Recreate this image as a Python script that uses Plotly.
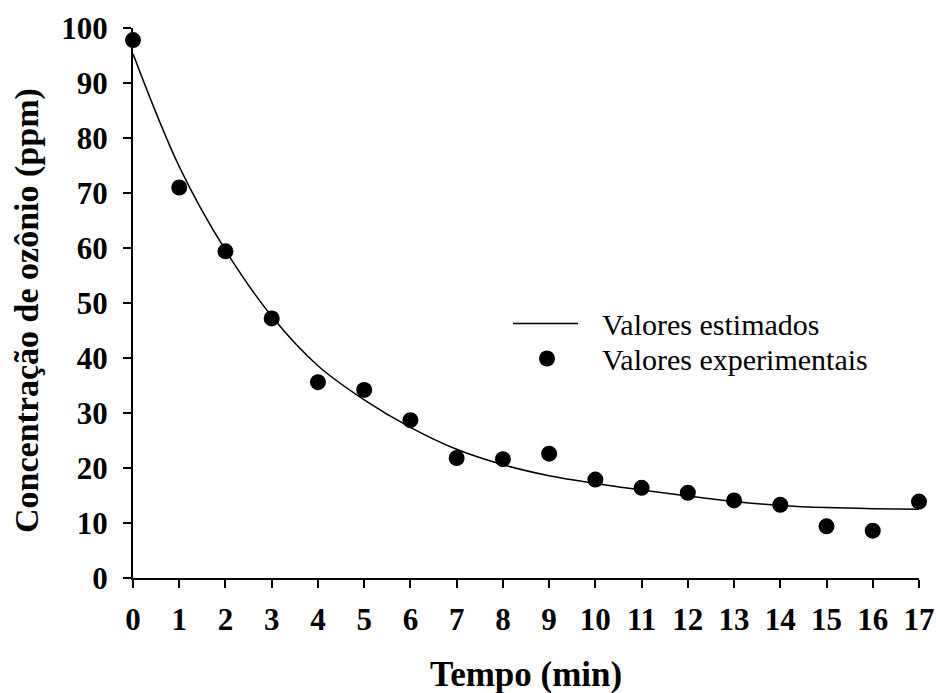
import plotly.graph_objects as go

# Data
tempo = list(range(18))
experimentais = [97.8, 71.0, 59.4, 47.2, 35.6, 34.2, 28.7, 21.8, 21.6, 22.6,
                 17.9, 16.4, 15.5, 14.1, 13.3, 9.4, 8.6, 13.9]
estimados = [95.3, 74.8, 59.6, 47.6, 38.6, 32.4, 27.4, 23.4, 20.6, 18.6,
             17.2, 16.0, 14.9, 13.9, 13.2, 12.8, 12.6, 12.5]
x_ticks = list(range(0, 18))
y_ticks = list(range(0, 101, 10))

FONT = "Liberation Serif, Times New Roman, serif"

fig = go.Figure()
fig.add_trace(go.Scatter(x=tempo, y=estimados, mode="lines", line_shape="spline",
                         line=dict(color="black", width=1.5), name="Valores estimados",
                         cliponaxis=False, showlegend=False))
fig.add_trace(go.Scatter(x=tempo, y=experimentais, mode="markers",
                         marker=dict(color="black", size=16), name="Valores experimentais",
                         cliponaxis=False, showlegend=False))

W, H = 936, 693
L, R, T, B = 133, 17, 28, 115
pw, ph = W - L - R, H - T - B

def px(xp):
    return (xp - L) / pw

def py(yp):
    return (H - B - yp) / ph

axis_common = dict(showline=True, linecolor="black", linewidth=2, ticks="outside",
                   ticklen=8, tickwidth=2, tickcolor="black", showgrid=False,
                   zeroline=False, automargin=False,
                   tickfont=dict(family=FONT, size=31, color="black", weight="bold"))

fig.update_xaxes(range=[0, 17], tickvals=x_ticks, ticktext=[str(v) for v in x_ticks],
                 ticklabelstandoff=5, **axis_common)
fig.update_yaxes(range=[0, 100], tickvals=y_ticks, ticktext=[str(v) for v in y_ticks],
                 ticklabelstandoff=9, **axis_common)

annotations = [
    dict(text="Tempo (min)", x=0.5, y=py(674), xref="paper", yref="paper",
         xanchor="center", yanchor="middle", showarrow=False,
         font=dict(family=FONT, size=35, color="black", weight="bold")),
    dict(text="Concentração de ozônio (ppm)", x=px(27), y=py(311), xref="paper", yref="paper",
         xanchor="center", yanchor="middle", showarrow=False, textangle=-90,
         font=dict(family=FONT, size=34, color="black", weight="bold")),
    dict(text="Valores estimados", x=px(600), y=py(324), xref="paper", yref="paper",
         xanchor="left", yanchor="middle", showarrow=False,
         font=dict(family=FONT, size=30, color="black")),
    dict(text="Valores experimentais", x=px(600), y=py(359), xref="paper", yref="paper",
         xanchor="left", yanchor="middle", showarrow=False,
         font=dict(family=FONT, size=30, color="black")),
]

shapes = [
    dict(type="line", xref="paper", yref="paper", x0=px(513), x1=px(578),
         y0=py(323.5), y1=py(323.5), line=dict(color="black", width=1.5)),
    dict(type="circle", xref="paper", yref="paper", xsizemode="pixel", ysizemode="pixel",
         xanchor=px(547), yanchor=py(358.5), x0=-8, x1=8, y0=-8, y1=8,
         fillcolor="black", line=dict(color="black", width=0)),
]

fig.update_layout(width=W, height=H, margin=dict(l=L, r=R, t=T, b=B, autoexpand=False),
                  plot_bgcolor="white", paper_bgcolor="white",
                  annotations=annotations, shapes=shapes, showlegend=False)

fig.write_html("out.html")
